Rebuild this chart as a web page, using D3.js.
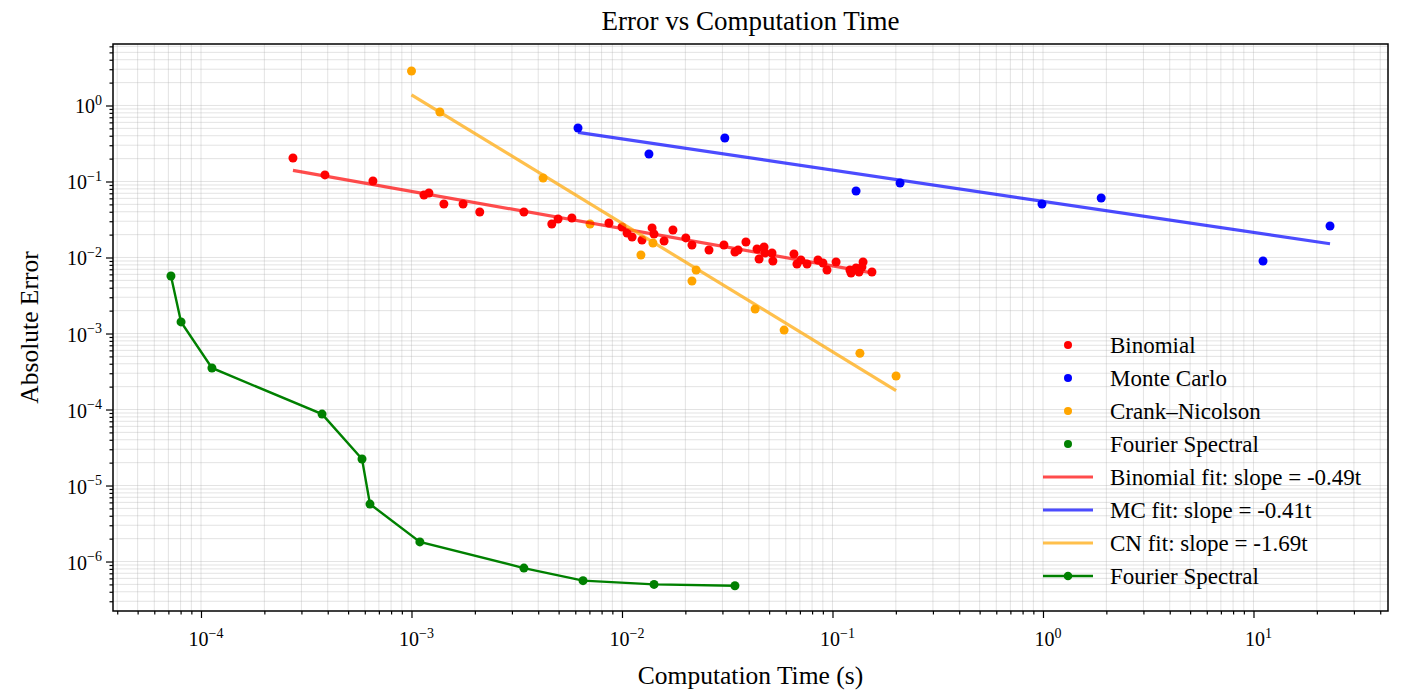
<!DOCTYPE html>
<head>
    <title>Error vs Computation Time</title>
    <script src="https://cdn.jsdelivr.net/npm/d3@7"></script>
    <style>
        body { margin: 0; background: #fff; }
        text { font-family: "Liberation Serif", "Times New Roman", serif; }
    </style>
</head>
<body>
<div id="container"></div>

<script>

// Données (temps en s, erreur absolue)
const binomialTime = [2.735e-4, 3.88e-4, 6.56e-4, 1.146e-3, 1.21e-3, 1.425e-3, 1.758e-3, 2.11e-3, 3.42e-3, 4.64e-3,
    4.97e-3, 5.78e-3, 8.67e-3, 0.0100, 0.01057, 0.01117, 0.01245, 0.0139, 0.01419, 0.01585,
    0.01746, 0.0201, 0.0215, 0.0259, 0.0305, 0.0344, 0.0356, 0.0388, 0.0438, 0.0448,
    0.0473, 0.0478, 0.0516, 0.0521, 0.0656, 0.0678, 0.0708, 0.0757, 0.0853, 0.0901,
    0.0942, 0.104, 0.121, 0.1225, 0.1294, 0.1337, 0.1397, 0.138, 0.154];
const binomialError = [0.204, 0.122, 0.1016, 0.0664, 0.0706, 0.0506, 0.0506, 0.0397, 0.0397, 0.0276,
    0.0321, 0.0331, 0.0284, 0.0252, 0.0210, 0.01862, 0.0170, 0.0245, 0.0204, 0.0165,
    0.0230, 0.0181, 0.0146, 0.01256, 0.0146, 0.0118, 0.01256, 0.0160, 0.01294, 0.00955,
    0.01375, 0.01146, 0.01146, 0.0090, 0.01112, 0.0082, 0.00927, 0.0082, 0.00927, 0.00847,
    0.00685, 0.00873, 0.00685, 0.00625, 0.00728, 0.00645, 0.00873, 0.0075, 0.00645];

const mcTime = [6.18e-3, 0.01343, 0.0308, 0.1294, 0.2094, 0.989, 1.89, 11.1, 23.1];
const mcError = [0.506, 0.230, 0.373, 0.075, 0.0955, 0.0506, 0.0607, 0.0090, 0.0260];

const cnTime = [1.0e-3, 1.364e-3, 4.22e-3, 7.05e-3, 0.0123, 0.01403, 0.0215, 0.0225, 0.0429, 0.0589, 0.135, 0.2005];
const cnError = [2.84, 0.82, 0.111, 0.0276, 0.0108, 0.0155, 4.9e-3, 6.85e-3, 2.1e-3, 1.11e-3, 5.5e-4, 2.76e-4];

const fourierTime = [7.2e-5, 8.04e-5, 1.127e-4, 3.76e-4, 5.82e-4, 6.35e-4, 1.096e-3, 3.42e-3, 6.53e-3, 0.0142, 0.0344];
const fourierError = [5.71e-3, 1.42e-3, 3.52e-4, 8.7e-5, 2.23e-5, 5.7e-6, 1.81e-6, 8.2e-7, 5.6e-7, 5.0e-7, 4.8e-7];

// Droites d'ajustement en log-log : log10(err) = pente * log10(t) + ordonnée
const fitSlopes = { binomial: -0.49, mc: -0.41, cn: -1.69 };
const fitIntercepts = { binomial: -2.60, mc: -1.26, cn: -4.93 };

const legendLabels = ["Binomial", "Monte Carlo", "Crank\u2013Nicolson", "Fourier Spectral",
    "Binomial fit: slope = -0.49t", "MC fit: slope = -0.41t", "CN fit: slope = -1.69t", "Fourier Spectral"];

// Dimensions
const width = 1410;
const height = 693;
const marginLeft = 113;
const marginRight = 1388;
const marginTop = 44;
const marginBottom = 611;

const svg = d3.create("svg")
    .attr("width", width)
    .attr("height", height);

const x = d3.scaleLog()
    .domain([Math.pow(10, -4.418), Math.pow(10, 1.639)])
    .range([marginLeft, marginRight]);

const y = d3.scaleLog()
    .domain([Math.pow(10, 0.809), Math.pow(10, -6.651)])
    .range([marginTop, marginBottom]);

// Graduations majeures et mineures
function logTicks(scale) {
    const [a, b] = d3.extent(scale.domain());
    const major = [], minor = [];
    for (let e = Math.floor(Math.log10(a)); e <= Math.ceil(Math.log10(b)); e++) {
        for (let m = 1; m < 10; m++) {
            const v = m * Math.pow(10, e);
            if (v < a || v > b) continue;
            if (m === 1) major.push(v); else minor.push(v);
        }
    }
    return { major, minor };
}
const xt = logTicks(x);
const yt = logTicks(y);

// Grille
const grid = svg.append("g")
    .attr("stroke", "#b0b0b0")
    .attr("stroke-opacity", 0.35)
    .attr("stroke-width", 1);

grid.selectAll(".gx")
    .data(xt.major.concat(xt.minor))
    .enter().append("line")
    .attr("x1", d => x(d)).attr("x2", d => x(d))
    .attr("y1", marginTop).attr("y2", marginBottom);

grid.selectAll(".gy")
    .data(yt.major.concat(yt.minor))
    .enter().append("line")
    .attr("y1", d => y(d)).attr("y2", d => y(d))
    .attr("x1", marginLeft).attr("x2", marginRight);

// Droites d'ajustement
function fitLine(key, times) {
    const [t0, t1] = d3.extent(times);
    const f = t => Math.pow(10, fitSlopes[key] * Math.log10(t) + fitIntercepts[key]);
    return [[t0, f(t0)], [t1, f(t1)]];
}
const line = d3.line().x(d => x(d[0])).y(d => y(d[1]));

const fits = [
    { key: "binomial", times: binomialTime, color: "red" },
    { key: "mc", times: mcTime, color: "blue" },
    { key: "cn", times: cnTime, color: "orange" }
];

// Nuages de points
function scatter(times, errors, color) {
    svg.append("g")
        .selectAll("circle")
        .data(times.map((t, i) => [t, errors[i]]))
        .enter().append("circle")
        .attr("cx", d => x(d[0]))
        .attr("cy", d => y(d[1]))
        .attr("r", 4.5)
        .attr("fill", color);
}
scatter(binomialTime, binomialError, "red");
scatter(mcTime, mcError, "blue");
scatter(cnTime, cnError, "orange");

fits.forEach(f => {
    svg.append("path")
        .attr("d", line(fitLine(f.key, f.times)))
        .attr("fill", "none")
        .attr("stroke", f.color)
        .attr("stroke-opacity", 0.7)
        .attr("stroke-width", 3.2);
});

// Fourier spectral : ligne + marqueurs
const fourier = fourierTime.map((t, i) => [t, fourierError[i]]);
svg.append("path")
    .attr("d", line(fourier))
    .attr("fill", "none")
    .attr("stroke", "green")
    .attr("stroke-width", 2.4);
scatter(fourierTime, fourierError, "green");

// Axes
const xAxis = svg.append("g").attr("transform", `translate(0,${marginBottom})`);
xAxis.append("g").call(d3.axisBottom(x).tickValues(xt.minor).tickSize(3.5).tickFormat(""));
xAxis.append("g").call(d3.axisBottom(x).tickValues(xt.major).tickSize(7).tickFormat(""));

const yAxis = svg.append("g").attr("transform", `translate(${marginLeft},0)`);
yAxis.append("g").call(d3.axisLeft(y).tickValues(yt.minor).tickSize(3.5).tickFormat(""));
yAxis.append("g").call(d3.axisLeft(y).tickValues(yt.major).tickSize(7).tickFormat(""));

svg.selectAll(".domain").remove();
svg.selectAll(".tick line").attr("stroke", "#000").attr("stroke-width", 1.2);

// Cadre
svg.append("rect")
    .attr("x", marginLeft).attr("y", marginTop)
    .attr("width", marginRight - marginLeft)
    .attr("height", marginBottom - marginTop)
    .attr("fill", "none")
    .attr("stroke", "#000")
    .attr("stroke-width", 1.5);

// Libellés des graduations 10^n
function powerLabel(g, v) {
    const e = Math.round(Math.log10(v));
    g.append("tspan").text("10");
    g.append("tspan")
        .attr("dy", "-0.6em")
        .style("font-size", "14px")
        .text(e < 0 ? "\u2212" + (-e) : e);
}

xt.major.forEach(v => {
    const t = svg.append("text")
        .attr("x", x(v) + 5)
        .attr("y", 646)
        .attr("text-anchor", "middle")
        .style("font-size", "20px");
    powerLabel(t, v);
});

yt.major.forEach(v => {
    const t = svg.append("text")
        .attr("x", 102)
        .attr("y", y(v) + 8)
        .attr("text-anchor", "end")
        .style("font-size", "20px");
    powerLabel(t, v);
});

// Titres
svg.append("text")
    .attr("x", (marginLeft + marginRight) / 2)
    .attr("y", 30)
    .attr("text-anchor", "middle")
    .style("font-size", "27px")
    .text("Error vs Computation Time");

svg.append("text")
    .attr("x", (marginLeft + marginRight) / 2)
    .attr("y", 684)
    .attr("text-anchor", "middle")
    .style("font-size", "25.5px")
    .text("Computation Time (s)");

svg.append("text")
    .attr("transform", `translate(38,${(marginTop + marginBottom) / 2}) rotate(-90)`)
    .attr("text-anchor", "middle")
    .style("font-size", "25.5px")
    .text("Absolute Error");

// Légende
const legendColors = ["red", "blue", "orange", "green", "red", "blue", "orange", "green"];
const legend = svg.append("g").attr("transform", "translate(1043,345)");
const rowH = 33;

legendLabels.forEach((lab, i) => {
    const row = legend.append("g").attr("transform", `translate(0,${i * rowH})`);
    if (i < 4) {
        row.append("circle").attr("cx", 25).attr("cy", 0).attr("r", 4).attr("fill", legendColors[i]);
    } else if (i < 7) {
        row.append("line").attr("x1", 0).attr("x2", 50).attr("y1", 0).attr("y2", 0)
            .attr("stroke", legendColors[i]).attr("stroke-opacity", 0.7).attr("stroke-width", 3.2);
    } else {
        row.append("line").attr("x1", 0).attr("x2", 50).attr("y1", 0).attr("y2", 0)
            .attr("stroke", "green").attr("stroke-width", 2.4);
        row.append("circle").attr("cx", 25).attr("cy", 0).attr("r", 4.3).attr("fill", "green");
    }
    row.append("text")
        .attr("x", 67)
        .attr("y", 7.5)
        .style("font-size", "23px")
        .text(lab);
});

container.append(svg.node());

</script>
</body>
